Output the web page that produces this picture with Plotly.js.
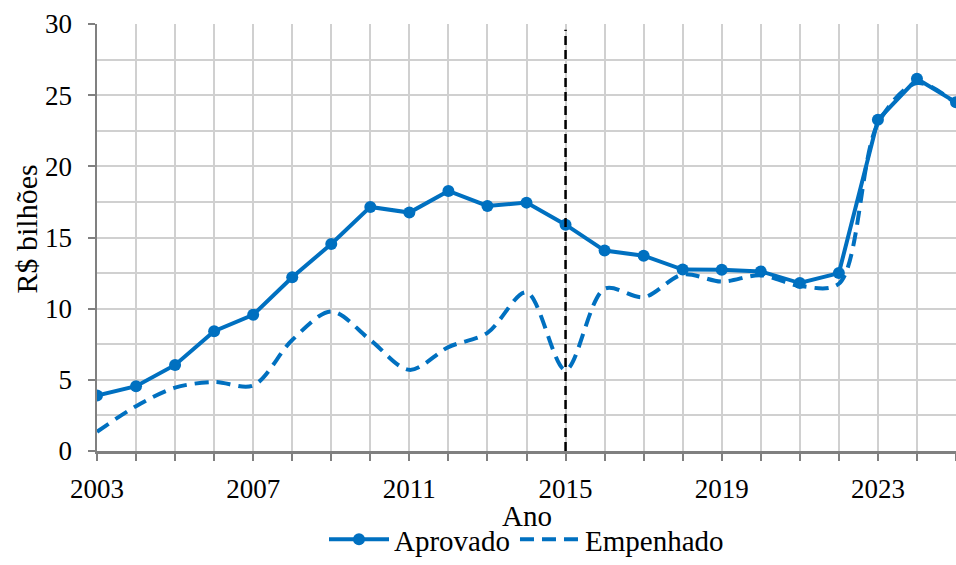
<!DOCTYPE html>
<html>
<head>
<meta charset="utf-8">
<script src="https://cdn.plot.ly/plotly-3.0.1.min.js"></script>
<style>html,body{margin:0;padding:0;background:#fff;}#chart{width:956px;height:565px;}</style>
</head>
<body>
<div id="chart"></div>
<script>
const years = [2003,2004,2005,2006,2007,2008,2009,2010,2011,2012,2013,2014,2015,2016,2017,2018,2019,2020,2021,2022,2023,2024,2025];
const aprovado = [3.9,4.55,6.05,8.42,9.57,12.2,14.55,17.15,16.75,18.27,17.22,17.45,15.9,14.08,13.72,12.75,12.73,12.62,11.8,12.5,23.27,26.15,24.5];
const empenhado = [1.35,3.15,4.45,4.85,4.6,7.8,9.8,7.8,5.7,7.3,8.3,11.15,5.7,11.4,10.8,12.4,11.9,12.35,11.6,11.75,23.0,25.85,24.4];
const markerYear = [2015];
const seriesNames = ['Aprovado','Empenhado'];
const yTicks = [0,5,10,15,20,25,30];
const xTickLabels = ['2003','2007','2011','2015','2019','2023'];
const xTitle = 'Ano';
const yTitle = 'R$ bilhões';

const blue = '#0070C0';
const font = 'Times New Roman, Liberation Serif, DejaVu Serif, serif';
const gridCol = '#d0d0d0';

const traces = [
  {x: years, y: aprovado, name: seriesNames[0], type: 'scatter', mode: 'lines+markers',
   line: {color: blue, width: 4}, marker: {color: blue, size: 12}},
  {x: years, y: empenhado, name: seriesNames[1], type: 'scatter', mode: 'lines',
   line: {color: blue, width: 4, dash: '14px,8px', shape: 'spline', smoothing: 0.9}}
];

const layout = {
  width: 956, height: 565,
  margin: {l: 97, r: 0, t: 24, b: 114, autoexpand: false},
  paper_bgcolor: '#fff', plot_bgcolor: '#fff',
  font: {family: font, color: '#000', size: 27},
  showlegend: true,
  legend: {orientation: 'h', x: 0.5, xanchor: 'center', yref: 'container', y: -0.008, yanchor: 'bottom',
           font: {family: font, size: 29}, itemwidth: 60, tracegroupgap: 0, borderwidth: 0},
  xaxis: {
    automargin: false,
    range: [2003, 2025], tickmode: 'array', tickvals: xTickLabels.map(Number), ticktext: xTickLabels,
    ticks: 'outside', ticklen: 7, tickwidth: 2, tickcolor: '#808080',
    showline: true, linecolor: '#808080', linewidth: 2.5,
    showgrid: true, gridcolor: gridCol, gridwidth: 2,
    minor: {dtick: 1, tick0: 2003, ticks: 'outside', ticklen: 7, tickwidth: 2, tickcolor: '#808080', showgrid: true, gridcolor: gridCol, gridwidth: 2},
    zeroline: false, ticklabelstandoff: 5,
    tickfont: {family: font, size: 27}
  },
  yaxis: {
    automargin: false,
    range: [0, 30], tickmode: 'array', tickvals: yTicks,
    ticks: 'outside', ticklen: 7, tickwidth: 2, tickcolor: '#808080',
    showline: true, linecolor: '#808080', linewidth: 2.5,
    showgrid: true, gridcolor: gridCol, gridwidth: 2,
    minor: {dtick: 2.5, tick0: 0, showgrid: true, gridcolor: gridCol, gridwidth: 2, ticks: ''},
    zeroline: false, ticklabelstandoff: 10,
    tickfont: {family: font, size: 27}
  },
  annotations: [
    {text: xTitle, xref: 'paper', yref: 'paper', x: 0.5, y: -0.152, xanchor: 'center', yanchor: 'middle',
     showarrow: false, font: {family: font, size: 29}},
    {text: yTitle, xref: 'paper', yref: 'paper', x: -0.082, y: 0.52, xanchor: 'center', yanchor: 'middle',
     textangle: -90, showarrow: false, font: {family: font, size: 30}}
  ],
  shapes: markerYear.map(v => ({type: 'line', xref: 'x', yref: 'y', x0: v, x1: v, y0: 0, y1: 29.6,
    line: {color: '#000', width: 2.5, dash: '9px,5px'}, layer: 'above'}))
};

Plotly.newPlot('chart', traces, layout, {displayModeBar: false, staticPlot: true});
</script>
</body>
</html>
